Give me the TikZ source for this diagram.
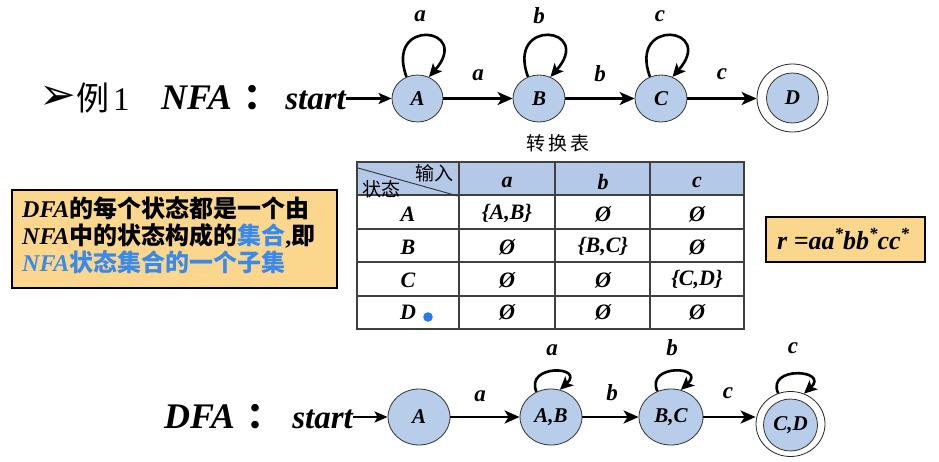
\documentclass[tikz,border=0pt]{standalone}
\usepackage{fontspec}
\setmainfont{Liberation Serif}
\newfontfamily\cjk{Noto Sans CJK SC}
\newfontfamily\dejavu{DejaVu Sans}
\usetikzlibrary{shapes.geometric,arrows.meta}
\definecolor{nodeblue}{RGB}{183,205,234}
\definecolor{hdrblue}{RGB}{180,200,231}
\definecolor{boxorange}{RGB}{250,215,140}
\definecolor{textblue}{RGB}{58,138,235}
\definecolor{dotblue}{RGB}{40,120,240}
\newcommand{\fs}[1]{\fontsize{#1}{#1}\selectfont}
\tikzset{
  st/.style={ellipse, draw=black!80, line width=0.8pt, fill=nodeblue, inner sep=0pt, font=\bfseries\itshape\fs{21}},
  ring/.style={ellipse, draw=black!85, line width=0.8pt, inner sep=0pt},
  edge/.style={line width=2.6pt, -{Stealth[length=15pt,width=13pt,inset=4pt]}},
  loopedge/.style={line width=2.6pt, -{Stealth[length=13pt,width=12pt,inset=3pt]}},
  startedge/.style={line width=2.4pt, -{Stealth[length=13pt,width=11pt,inset=3pt]}},
  lbl/.style={font=\bfseries\itshape\fs{23}, inner sep=0pt},
  cell/.style={font=\bfseries\itshape\fs{22}, inner sep=0pt},
  tline/.style={draw=black!75, line width=1.3pt},
}
\begin{document}
\begin{tikzpicture}[x=1pt,y=-1pt]
\useasboundingbox (0,0) rectangle (939,462);
\fill[white] (0,0) rectangle (939,462);

% ---------- NFA title ----------
\node[inner sep=0pt, font=\dejavu\fs{44}] (bul) at (58,98) {➢};
\node[inner sep=0pt, anchor=base west, font=\fs{33}] (li) at (76,111) {{\cjk 例}\hspace{4pt}1};
\node[inner sep=0pt, anchor=base west, font=\bfseries\itshape\fs{36}] (nfa) at (161,110) {NFA\hspace{12pt}{\cjk\bfseries ：}};
\node[inner sep=0pt, anchor=base east, font=\bfseries\itshape\fs{33}] (start1) at (346,110) {start};

% ---------- NFA nodes ----------
\node[st, minimum width=51pt, minimum height=47pt] (A) at (417.5,98.5) {A};
\node[st, minimum width=52pt, minimum height=47pt] (B) at (539,98.5) {B};
\node[st, minimum width=52pt, minimum height=47pt] (C) at (661,98.5) {C};
\node[ring, minimum width=71pt, minimum height=68pt] (Dout) at (792.5,98) {};
\node[st, minimum width=52pt, minimum height=50pt] (D) at (792.5,98) {D};

\draw[startedge] (start1.east |- A.west) -- (A.west);
\draw[edge] (A.east) -- (B.west);
\draw[edge] (B.east) -- (C.west);
\draw[edge] (C.east) -- (C.east -| Dout.west);

\foreach \n in {A,B,C}{
  \draw[loopedge] (\n.117) .. controls +(-22,-60) and +(44,-50) .. (\n.62);
}
\node[lbl] (la1) at (420,16) {a};
\node[lbl] (lb1) at (539,16) {b};
\node[lbl] (lc1) at (660,16) {c};
\node[lbl] (ea1) at (478,75) {a};
\node[lbl] (eb1) at (600,74) {b};
\node[lbl] (ec1) at (722,74) {c};

% ---------- transition table ----------
\node[inner sep=0pt, font=\cjk\fs{19}] (ttl) at (558,143) {转\hspace{3pt}换\hspace{3pt}表};
\fill[hdrblue] (357,162) rectangle (744,195);
\draw[tline] (357,162) rectangle (744,329);
\foreach \y in {195,229,262,296}{ \draw[tline] (357,\y) -- (744,\y); }
\foreach \x in {459,555,650}{ \draw[tline] (\x,162) -- (\x,329); }
\draw[black!80, line width=0.9pt] (358,168) -- (458,196);
\node[inner sep=0pt, font=\cjk\fs{19}] (in) at (434,173) {输入};
\node[inner sep=0pt, font=\cjk\fs{19}] (zt) at (381,189) {状态};

\node[cell] (ha) at (507,182) {a};
\node[cell] (hb) at (603,182) {b};
\node[cell] (hc) at (697,182) {c};

\node[cell] (rA) at (408,214) {A};
\node[cell] (rB) at (408,247) {B};
\node[cell] (rC) at (408,280) {C};
\node[cell] (rD) at (408,312) {D};

\node[cell] (aA) at (507,214) {\{A,B\}};
\node[cell] (bA) at (603,214) {Ø};
\node[cell] (cA) at (697,214) {Ø};
\node[cell] (aB) at (507,247) {Ø};
\node[cell] (bB) at (603,247) {\{B,C\}};
\node[cell] (cB) at (697,247) {Ø};
\node[cell] (aC) at (507,280) {Ø};
\node[cell] (bC) at (603,280) {Ø};
\node[cell] (cC) at (697,280) {\{C,D\}};
\node[cell] (aD) at (507,312) {Ø};
\node[cell] (bD) at (603,312) {Ø};
\node[cell] (cD) at (697,312) {Ø};
\fill[dotblue] (428,317) circle (4.8pt);

% ---------- left note box ----------
\filldraw[fill=boxorange, draw=black, line width=1.2pt] (12,190) rectangle (337,288);
\node[inner sep=0pt, anchor=base west] (n1) at (22,218)
  {\fs{24}\bfseries\itshape DFA{\upshape\cjk\bfseries\fs{24}的每个状态都是一个由}};
\node[inner sep=0pt, anchor=base west] (n2) at (22,245)
  {\fs{24}\bfseries\itshape NFA{\upshape\cjk\bfseries\fs{24}中的状态构成的\textcolor{textblue}{集合}}{\upshape ,}{\upshape\cjk\bfseries\fs{24}即}};
\node[inner sep=0pt, anchor=base west, text=textblue] (n3) at (22,272)
  {\fs{24}\bfseries\itshape NFA{\upshape\cjk\bfseries\fs{24}状态集合的一个子集}};

% ---------- regex box ----------
\filldraw[fill=boxorange, draw=black, line width=1.2pt] (766,217) rectangle (925,262);
\node[inner sep=0pt, anchor=base west, font=\bfseries\itshape\fs{26}] (re) at (777,250)
  {r =aa\raisebox{0.42em}{\fs{17}*}bb\raisebox{0.42em}{\fs{17}*}cc\raisebox{0.42em}{\fs{17}*}};

% ---------- DFA ----------
\node[inner sep=0pt, anchor=base west, font=\bfseries\itshape\fs{36}] (dfa) at (164,428) {DFA\hspace{12pt}{\cjk\bfseries ：}};
\node[inner sep=0pt, anchor=base east, font=\bfseries\itshape\fs{33}] (start2) at (353,428) {start};

\node[st, minimum width=62pt, minimum height=56pt] (A2) at (419,417) {A};
\node[st, minimum width=62pt, minimum height=56pt] (AB) at (551,417) {A,B};
\node[st, minimum width=64pt, minimum height=56pt] (BC) at (671,417) {B,C};
\node[ring, minimum width=69pt, minimum height=65pt] (CDout) at (790.5,424) {};
\node[st, minimum width=54pt, minimum height=52pt] (CD) at (790.5,425) {C,D};

\draw[startedge] (start2.east |- A2.west) -- (A2.west);
\draw[edge] (A2.east) -- (AB.west);
\draw[edge] (AB.east) -- (BC.west);
\draw[edge] (BC.east) -- (BC.east -| CDout.west);

\draw[loopedge] (AB.120) .. controls +(-12,-28) and +(26,-24) .. (AB.72);
\draw[loopedge] (BC.118) .. controls +(-12,-28) and +(26,-24) .. (BC.70);
\draw[loopedge] (CDout.112) .. controls +(-12,-28) and +(26,-24) .. (CDout.66);

\node[lbl] (la2) at (552,350) {a};
\node[lbl] (lb2) at (672,348) {b};
\node[lbl] (lc2) at (793,348) {c};
\node[lbl] (ea2) at (480,396) {a};
\node[lbl] (eb2) at (612,393) {b};
\node[lbl] (ec2) at (728,393) {c};
\end{tikzpicture}
\end{document}
